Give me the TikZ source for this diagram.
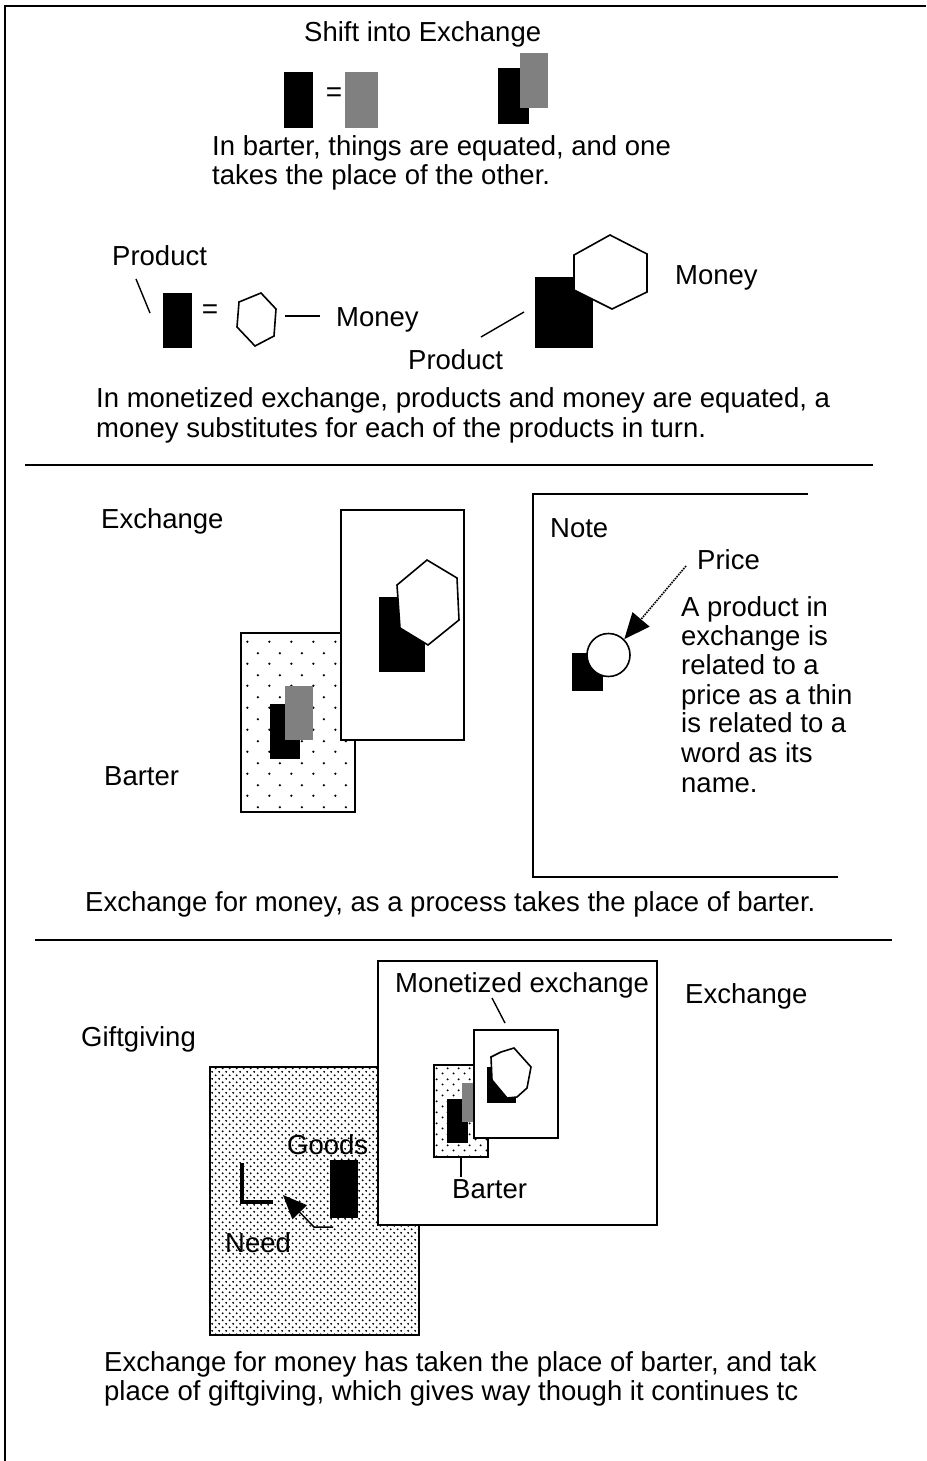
\documentclass[tikz,border=0pt]{standalone}
\usepackage{fontspec}
\setmainfont{Liberation Sans}
\usetikzlibrary{arrows.meta,patterns}
\pgfdeclarepatternformonly{sparsedots}{\pgfqpoint{0pt}{0pt}}{\pgfqpoint{22pt}{22pt}}{\pgfqpoint{22pt}{22pt}}{%
  \pgfpathcircle{\pgfqpoint{5.5pt}{5.5pt}}{1.3pt}%
  \pgfpathcircle{\pgfqpoint{16.5pt}{16.5pt}}{1.3pt}%
  \pgfusepath{fill}}
\pgfdeclarepatternformonly{meddots}{\pgfqpoint{0pt}{0pt}}{\pgfqpoint{11pt}{11pt}}{\pgfqpoint{11pt}{11pt}}{%
  \pgfpathcircle{\pgfqpoint{2.75pt}{2.75pt}}{1.15pt}%
  \pgfpathcircle{\pgfqpoint{8.25pt}{8.25pt}}{1.15pt}%
  \pgfusepath{fill}}
\pgfdeclarepatternformonly{densedots}{\pgfqpoint{0pt}{0pt}}{\pgfqpoint{7.4pt}{7.4pt}}{\pgfqpoint{7.4pt}{7.4pt}}{%
  \pgfpathcircle{\pgfqpoint{1.85pt}{1.85pt}}{1.1pt}%
  \pgfpathcircle{\pgfqpoint{5.55pt}{5.55pt}}{1.1pt}%
  \pgfusepath{fill}}
\begin{document}
\begin{tikzpicture}[x=1pt,y=-1pt,
  lbl/.style={anchor=base west,inner sep=0pt,font=\fontsize{27.5}{29}\selectfont},
  eqsign/.style={inner sep=0pt,font=\fontsize{28}{30}\selectfont},
  gry/.style={fill=black!50},
  frameline/.style={line width=2.2pt},
  sepline/.style={line width=2pt},
  box/.style={draw,line width=2.2pt,fill=white},
  shapeline/.style={line width=1.6pt,fill=white},
  leader/.style={line width=1.4pt},
  bigtip/.style={-{Triangle[length=26pt,width=22pt]}}]
\useasboundingbox (0,0) rectangle (926,1461);
% frame
\draw[frameline] (926,6) -- (5,6) -- (5,1461);

% ---------- section 1: barter
\node[lbl] (title) at (304,42) {Shift into Exchange};
\fill[black] (284,72) rectangle (313,128);
\node[eqsign] (eq1) at (334,95) {=};
\fill[gry] (345,72) rectangle (378,128);
\fill[black] (498,68) rectangle (529,124);
\fill[gry] (520,53) rectangle (548,108);
\node[lbl] (t1a) at (212,155) {In barter, things are equated, and one};
\node[lbl] (t1b) at (212,184) {takes the place of the other.};

% ---------- section 1: monetized
\node[lbl] (prodA) at (112,265) {Product};
\coordinate (prodAstart) at (136,279);
\coordinate (prodAend) at (150,313);
\draw[leader] (prodAstart) -- (prodAend);
\fill[black] (163,293) rectangle (192,348);
\node[eqsign] (eq2) at (210,312) {=};
\draw[shapeline] (261,293) -- (276,309) -- (274,336) -- (255,346) -- (237,327) -- (239,302) -- cycle;
\coordinate (moneyAstart) at (285,316);
\coordinate (moneyAend) at (320,316);
\node[lbl] (moneyA) at (336,326) {Money};
\draw[leader] (moneyAstart) -- (moneyAend);
\fill[black] (535,277) rectangle (593,348);
\draw[shapeline] (610,235) -- (647,254) -- (647,292) -- (612,309) -- (574,290) -- (574,255) -- cycle;
\node[lbl] (moneyB) at (675,284) {Money};
\node[lbl] (prodB) at (408,369) {Product};
\coordinate (prodBstart) at (481,337);
\coordinate (prodBend) at (524,312);
\draw[leader] (prodBstart) -- (prodBend);
\node[lbl] (t2a) at (96,407) {In monetized exchange, products and money are equated, a};
\node[lbl] (t2b) at (96,437) {money substitutes for each of the products in turn.};

\draw[sepline] (25,465) -- (873,465);

% ---------- section 2
\node[lbl] (exchA) at (101,528) {Exchange};
\node[lbl] (barterA) at (104,785) {Barter};
\draw[line width=2.2pt, preaction={fill=white}, pattern=sparsedots] (241,633) rectangle (355,812);
\fill[black] (270,704) rectangle (300,759);
\fill[gry] (285,686) rectangle (313,740);
\draw[box] (341,510) rectangle (464,740);
\fill[black] (379,597) rectangle (425,672);
\draw[shapeline] (427,560) -- (457,578) -- (459,620) -- (428,645) -- (400,628) -- (397,585) -- cycle;

% note box
\draw[sepline] (808,494) -- (533,494) -- (533,877) -- (838,877);
\node[lbl] (note) at (550,537) {Note};
\node[lbl] (price) at (697,569) {Price};
\fill[black] (572,653) rectangle (603,691);
\node[draw,circle,line width=1.6pt,fill=white,minimum size=43pt,inner sep=0pt] (pricecirc) at (608.5,655) {};
\coordinate (pricestart) at (686,566);
\draw[densely dotted,line width=1.6pt,bigtip] (pricestart) -- (pricecirc.north east);
\node[lbl] (n1) at (681,616) {A product in};
\node[lbl] (n2) at (681,645) {exchange is};
\node[lbl] (n3) at (681,674) {related to a};
\node[lbl] (n4) at (681,704) {price as a thin};
\node[lbl] (n5) at (681,732) {is related to a};
\node[lbl] (n6) at (681,762) {word as its};
\node[lbl] (n7) at (681,792) {name.};
\node[lbl] (t3) at (85,911) {Exchange for money, as a process takes the place of barter.};

\draw[sepline] (35,940) -- (892,940);

% ---------- section 3
\node[lbl] (gift) at (81,1046) {Giftgiving};
\draw[line width=2.2pt, preaction={fill=white}, pattern=densedots] (210,1067) rectangle (419,1335);
\node[lbl] (goods) at (287,1154) {Goods};
\node[lbl] (need) at (225,1252) {Need};
\fill[black] (330,1160) rectangle (358,1218);
\draw[line width=4pt] (242,1163) -- (242,1202) -- (273,1202);
\coordinate (gstart) at (333,1227);
\coordinate (gmid) at (314,1227);
\coordinate (gend) at (283,1195);
\draw[line width=1.5pt,-{Triangle[length=24pt,width=20pt]}] (gstart) -- (gmid) -- (gend);

\draw[box] (378,961) rectangle (657,1225);
\node[lbl] (monex) at (395,992) {Monetized exchange};
\coordinate (monexstart) at (492,998);
\coordinate (monexend) at (505,1023);
\draw[leader] (monexstart) -- (monexend);
\node[lbl] (exchB) at (685,1003) {Exchange};
\draw[line width=2.5pt, preaction={fill=white}, pattern=meddots] (434,1065) rectangle (488,1157);
\fill[black] (447,1099) rectangle (468,1143);
\fill[gry] (462,1083) rectangle (475,1122);
\draw[line width=2pt,fill=white] (474,1030) rectangle (558,1138);
\fill[black] (487,1067) rectangle (516,1103);
\draw[shapeline] (514,1048) -- (531,1067) -- (527,1088) -- (517,1097) -- (507,1098) -- (492,1080) -- (491,1057) -- (501,1052) -- cycle;
\node[lbl] (barterB) at (452,1198) {Barter};
\coordinate (barterBtop) at (461,1157);
\coordinate (barterBbot) at (461,1177);
\draw[leader] (barterBtop) -- (barterBbot);
\node[lbl] (t4a) at (104,1371) {Exchange for money has taken the place of barter, and tak};
\node[lbl] (t4b) at (104,1400) {place of giftgiving, which gives way though it continues tc};
\end{tikzpicture}
\end{document}
